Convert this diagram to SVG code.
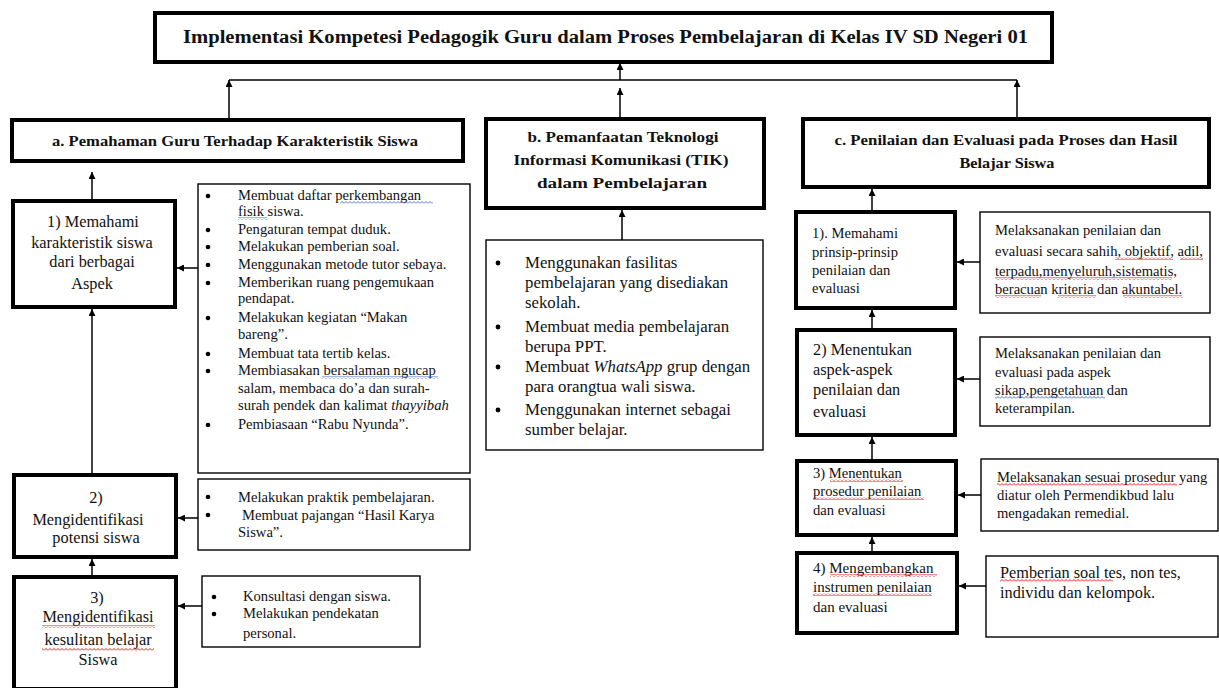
<svg xmlns="http://www.w3.org/2000/svg" width="1219" height="688" viewBox="0 0 1219 688">
<style>
text{font-family:"Liberation Serif","Times New Roman",serif;fill:#111}
.b{font-weight:bold}
.t16{font-size:16.3px}
.t145{font-size:14.6px}
.thick{fill:#fff;stroke:#000;stroke-width:4}
.thin{fill:#fff;stroke:#000;stroke-width:1.4}
.dot{fill:#000}
.c line{stroke:#000;stroke-width:1.5;fill:none}
.c .a{marker-end:url(#ah)}
.sqr{fill:url(#wr)}
.sqb{fill:url(#wb)}
</style>
<defs>
<marker id="ah" viewBox="0 0 10 10" refX="10" refY="5" markerWidth="7" markerHeight="7" markerUnits="userSpaceOnUse" orient="auto">
<path d="M0,0 L10,5 L0,10 z" fill="#000"/>
</marker>
<pattern id="wr" width="4" height="3" patternUnits="userSpaceOnUse">
<path d="M0,2.5 L2,0.5 L4,2.5" stroke="#e00" stroke-width="0.9" fill="none"/>
</pattern>
<pattern id="wb" width="4" height="3" patternUnits="userSpaceOnUse">
<path d="M0,2.5 L2,0.5 L4,2.5" stroke="#36c" stroke-width="0.9" fill="none"/>
</pattern>
</defs>
<rect width="1219" height="688" fill="#fff"/>

<g id="title">
<rect class="thick" x="155" y="13" width="897" height="49"/>
<text class="b" x="183" y="43" font-size="18" textLength="845" lengthAdjust="spacingAndGlyphs">Implementasi Kompetesi Pedagogik Guru dalam Proses Pembelajaran di Kelas IV SD Negeri 01</text>
</g>

<g id="nodeA">
<rect class="thick" x="12" y="120" width="451" height="41"/>
<text class="b" x="52" y="146" font-size="15" textLength="366" lengthAdjust="spacingAndGlyphs">a. Pemahaman Guru Terhadap Karakteristik Siswa</text>
</g>

<g id="nodeB">
<rect class="thick" x="486" y="119" width="278" height="89"/>
<text class="b" font-size="15" text-anchor="middle"><tspan x="623" y="142" textLength="191" lengthAdjust="spacingAndGlyphs">b. Pemanfaatan Teknologi</tspan><tspan x="621" y="165" textLength="215" lengthAdjust="spacingAndGlyphs">Informasi Komunikasi (TIK)</tspan><tspan x="622" y="188" textLength="170" lengthAdjust="spacingAndGlyphs">dalam Pembelajaran</tspan></text>
</g>

<g id="nodeC">
<rect class="thick" x="803" y="119" width="406" height="68"/>
<text class="b" font-size="15" text-anchor="middle"><tspan x="1006" y="145" textLength="343" lengthAdjust="spacingAndGlyphs">c. Penilaian dan Evaluasi pada Proses dan Hasil</tspan><tspan x="1007" y="168" textLength="95" lengthAdjust="spacingAndGlyphs">Belajar Siswa</tspan></text>
</g>

<g id="nodeA1">
<rect class="thick" x="13" y="201" width="162" height="106"/>
<text class="t16" text-anchor="middle"><tspan x="93" y="227">1) Memahami</tspan><tspan x="92" y="248">karakteristik siswa</tspan><tspan x="92" y="267">dari berbagai</tspan><tspan x="92" y="289">Aspek</tspan></text>
</g>

<g id="detailA1">
<rect class="thin" x="198" y="184" width="272" height="289"/>
<g class="dot">
<circle cx="208" cy="196" r="2.3"/><circle cx="208" cy="230" r="2.3"/><circle cx="208" cy="247" r="2.3"/><circle cx="208" cy="265" r="2.3"/><circle cx="208" cy="283" r="2.3"/><circle cx="208" cy="318" r="2.3"/><circle cx="208" cy="354" r="2.3"/><circle cx="208" cy="371" r="2.3"/><circle cx="208" cy="425" r="2.3"/>
</g>
<g class="t145">
<text x="238" y="200">Membuat daftar perkembangan</text>
<text x="238" y="216">fisik siswa.</text>
<text x="238" y="234">Pengaturan tempat duduk.</text>
<text x="238" y="251">Melakukan pemberian soal.</text>
<text x="238" y="269">Menggunakan metode tutor sebaya.</text>
<text x="238" y="287">Memberikan ruang pengemukaan</text>
<text x="238" y="303">pendapat.</text>
<text x="238" y="322">Melakukan kegiatan “Makan</text>
<text x="238" y="339">bareng”.</text>
<text x="238" y="358">Membuat tata tertib kelas.</text>
<text x="238" y="375">Membiasakan bersalaman ngucap</text>
<text x="238" y="393">salam, membaca do’a dan surah-</text>
<text x="238" y="410">surah pendek dan kalimat <tspan font-style="italic">thayyibah</tspan></text>
<text x="238" y="429">Pembiasaan “Rabu Nyunda”.</text>
</g>
<rect class="sqb" x="340" y="201" width="93" height="3"/>
<rect class="sqb" x="238" y="217" width="29" height="3"/>
<rect class="sqb" x="322" y="376" width="116" height="3"/>
</g>

<g id="nodeA2">
<rect class="thick" x="14" y="475" width="162" height="82"/>
<text class="t16" text-anchor="middle"><tspan x="96" y="503">2)</tspan><tspan x="88" y="525">Mengidentifikasi</tspan><tspan x="96" y="543">potensi siswa</tspan></text>
</g>

<g id="detailA2">
<rect class="thin" x="198" y="479" width="272" height="71"/>
<g class="dot"><circle cx="208" cy="497" r="2.3"/><circle cx="208" cy="515" r="2.3"/></g>
<g class="t145">
<text x="238" y="502">Melakukan praktik pembelajaran.</text>
<text x="242" y="520">Membuat pajangan “Hasil Karya</text>
<text x="238" y="537">Siswa”.</text>
</g>
</g>

<g id="nodeA3">
<rect class="thick" x="14" y="577" width="162" height="112"/>
<text class="t16" text-anchor="middle"><tspan x="97" y="603">3)</tspan><tspan x="98" y="622">Mengidentifikasi</tspan><tspan x="98" y="645">kesulitan belajar</tspan><tspan x="98" y="665">Siswa</tspan></text>
<rect class="sqr" x="42" y="625" width="113" height="3"/>
<rect class="sqr" x="42" y="648" width="112" height="3"/>
</g>

<g id="detailA3">
<rect class="thin" x="202" y="576" width="218" height="71"/>
<g class="dot"><circle cx="214" cy="597" r="2.3"/><circle cx="214" cy="614" r="2.3"/></g>
<g class="t145">
<text x="243" y="601">Konsultasi dengan siswa.</text>
<text x="243" y="618">Melakukan pendekatan</text>
<text x="243" y="638">personal.</text>
</g>
</g>

<g id="detailB">
<rect class="thin" x="486" y="240" width="277" height="210"/>
<g class="dot"><circle cx="498" cy="263" r="2.4"/><circle cx="498" cy="327" r="2.4"/><circle cx="498" cy="367" r="2.4"/><circle cx="498" cy="410" r="2.4"/></g>
<g font-size="16.8px">
<text x="525" y="268">Menggunakan fasilitas</text>
<text x="525" y="288">pembelajaran yang disediakan</text>
<text x="525" y="308">sekolah.</text>
<text x="525" y="332">Membuat media pembelajaran</text>
<text x="525" y="352">berupa PPT.</text>
<text x="525" y="372">Membuat <tspan font-style="italic">WhatsApp</tspan> grup dengan</text>
<text x="525" y="392">para orangtua wali siswa.</text>
<text x="525" y="415">Menggunakan internet sebagai</text>
<text x="525" y="435">sumber belajar.</text>
</g>
</g>

<g id="nodeC1">
<rect class="thick" x="796" y="212" width="159" height="96"/>
<text class="t145"><tspan x="812" y="238" textLength="86" lengthAdjust="spacing">1). Memahami</tspan><tspan x="812" y="257">prinsip-prinsip</tspan><tspan x="812" y="275">penilaian dan</tspan><tspan x="812" y="293">evaluasi</tspan></text>
</g>

<g id="detailC1">
<rect class="thin" x="980" y="212" width="230" height="101"/>
<g class="t145">
<text x="995" y="235">Melaksanakan penilaian dan</text>
<text x="995" y="256" textLength="208" lengthAdjust="spacing">evaluasi secara sahih, objektif, adil,</text>
<text x="995" y="276">terpadu,menyeluruh,sistematis,</text>
<text x="995" y="294">beracuan kriteria dan akuntabel.</text>
</g>
<rect class="sqr" x="1115" y="257" width="58" height="3"/>
<rect class="sqr" x="1180" y="257" width="23" height="3"/>
<rect class="sqr" x="995" y="277" width="177" height="3"/>
<rect class="sqr" x="995" y="295" width="46" height="3"/>
<rect class="sqr" x="1058" y="295" width="38" height="3"/>
<rect class="sqr" x="1123" y="295" width="59" height="3"/>
</g>

<g id="nodeC2">
<rect class="thick" x="797" y="330" width="158" height="105"/>
<text class="t16"><tspan x="813" y="355">2) Menentukan</tspan><tspan x="813" y="375">aspek-aspek</tspan><tspan x="813" y="395">penilaian dan</tspan><tspan x="813" y="417">evaluasi</tspan></text>
</g>

<g id="detailC2">
<rect class="thin" x="980" y="337" width="230" height="89"/>
<g class="t145">
<text x="995" y="358">Melaksanakan penilaian dan</text>
<text x="995" y="377">evaluasi pada aspek</text>
<text x="995" y="395">sikap,pengetahuan dan</text>
<text x="995" y="413">keterampilan.</text>
</g>
<rect class="sqb" x="995" y="396" width="110" height="3"/>
</g>

<g id="nodeC3">
<rect class="thick" x="797" y="461" width="159" height="74"/>
<text class="t145"><tspan x="813" y="478">3) Menentukan</tspan><tspan x="813" y="496">prosedur penilaian</tspan><tspan x="813" y="515">dan evaluasi</tspan></text>
<rect class="sqr" x="830" y="479" width="73" height="3"/>
<rect class="sqr" x="813" y="497" width="111" height="3"/>
</g>

<g id="detailC3">
<rect class="thin" x="981" y="459" width="237" height="72"/>
<g class="t145">
<text x="997" y="482">Melaksanakan sesuai prosedur yang</text>
<text x="997" y="500">diatur oleh Permendikbud lalu</text>
<text x="997" y="518">mengadakan remedial.</text>
</g>
<rect class="sqr" x="997" y="483" width="180" height="3"/>
</g>

<g id="nodeC4">
<rect class="thick" x="797" y="553" width="160" height="80"/>
<text font-size="15px"><tspan x="813" y="573">4) Mengembangkan</tspan><tspan x="813" y="592">instrumen penilaian</tspan><tspan x="813" y="612">dan evaluasi</tspan></text>
<rect class="sqr" x="830" y="574" width="107" height="3"/>
<rect class="sqr" x="813" y="593" width="119" height="3"/>
</g>

<g id="detailC4">
<rect class="thin" x="986" y="556" width="232" height="81"/>
<g class="t16">
<text x="1000" y="578">Pemberian soal tes, non tes,</text>
<text x="1000" y="598">individu dan kelompok.</text>
</g>
<rect class="sqr" x="1000" y="579" width="113" height="3"/>
</g>

<g id="connectors" class="c">
<line class="a" x1="620" y1="80" x2="620" y2="63"/>
<line x1="229" y1="80" x2="1017" y2="80"/>
<line class="a" x1="229" y1="118" x2="229" y2="80"/>
<line class="a" x1="1017" y1="117" x2="1017" y2="80"/>
<line class="a" x1="620" y1="117" x2="620" y2="88"/>
<line class="a" x1="92" y1="199" x2="92" y2="172"/>
<line class="a" x1="92" y1="473" x2="92" y2="309"/>
<line class="a" x1="92" y1="575" x2="92" y2="559"/>
<line class="a" x1="198" y1="268" x2="177" y2="268"/>
<line class="a" x1="198" y1="518" x2="178" y2="518"/>
<line class="a" x1="202" y1="606" x2="178" y2="606"/>
<line class="a" x1="622" y1="240" x2="622" y2="210"/>
<line class="a" x1="872" y1="210" x2="872" y2="189"/>
<line class="a" x1="872" y1="328" x2="872" y2="310"/>
<line class="a" x1="872" y1="459" x2="872" y2="437"/>
<line class="a" x1="872" y1="551" x2="872" y2="537"/>
<line class="a" x1="980" y1="262" x2="957" y2="262"/>
<line class="a" x1="980" y1="379" x2="957" y2="379"/>
<line class="a" x1="981" y1="495" x2="958" y2="495"/>
<line class="a" x1="986" y1="586" x2="959" y2="586"/>
</g>
</svg>
